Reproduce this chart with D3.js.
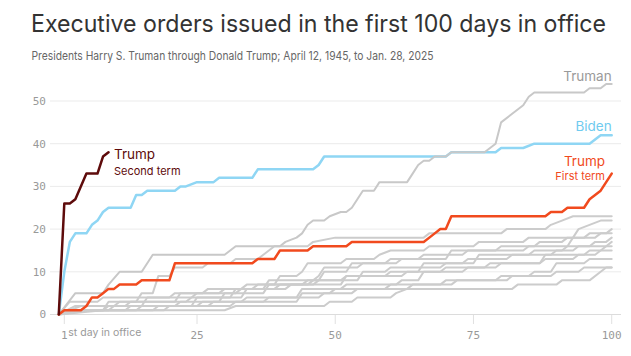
<!DOCTYPE html>
<html><head><meta charset="utf-8">
<script src="https://cdn.jsdelivr.net/npm/d3@7"></script>
<style>
html,body{margin:0;padding:0;background:#fff;}
svg{display:block;}
</style></head>
<body>
<svg id="chart" width="631" height="356"></svg>
<script>
// ---- DATA (day, cumulative executive orders) ----
const xTicks = [1, 25, 50, 75, 100];
const yTicks = [0, 10, 20, 30, 40, 50];

const truman = [[0,0],[3,5],[8,5],[9,7],[11,10],[15,10],[16,12],[17,14],[30,14],[31,15],[32,16],[40,16],[41,17],[43,18],[44,19],[45,21],[46,22],[48,22],[49,23],[51,24],[52,24],[53,25],[54,27],[55,29],[57,29],[58,31],[63,31],[64,33],[65,35],[66,36],[67,36],[68,37],[70,37],[71,38],[77,38],[78,39],[79,40],[80,45],[82,47],[84,49],[85,51],[86,52],[95,52],[96,53],[98,53],[99,54],[100,54]];
const grey23 = [[0,0],[3,1],[8,1],[9,3],[14,3],[15,5],[17,5],[18,9],[20,9],[21,11],[26,11],[27,12],[31,12],[32,13],[36,13],[37,14],[39,16],[45,16],[46,17],[50,18],[66,18],[67,19],[80,19],[81,20],[88,20],[89,21],[91,22],[93,23],[100,23]];
const grey22 = [[0,0],[4,2],[12,2],[13,3],[21,3],[22,5],[26,5],[27,6],[33,6],[34,7],[39,7],[40,9],[43,9],[44,10],[45,12],[51,12],[52,13],[57,13],[58,14],[60,15],[66,15],[67,16],[75,16],[76,17],[84,17],[85,18],[93,18],[94,20],[96,21],[98,22],[100,22]];
const grey20 = [[0,0],[2,1],[8,1],[9,2],[15,2],[16,4],[24,4],[25,5],[32,5],[33,6],[37,6],[38,8],[46,8],[47,9],[48,11],[54,11],[55,12],[61,12],[62,13],[70,13],[71,15],[79,15],[80,16],[86,16],[87,17],[91,17],[92,18],[95,18],[96,19],[99,19],[100,20]];
const grey19 = [[0,0],[2,3],[7,3],[8,4],[20,4],[21,5],[29,5],[30,6],[35,6],[36,7],[44,7],[45,8],[47,8],[48,10],[52,10],[53,12],[59,12],[60,13],[65,13],[66,14],[73,14],[74,15],[84,15],[85,16],[92,16],[93,18],[97,18],[98,19],[100,19]];
const grey18 = [[0,0],[1,1],[12,1],[13,2],[21,2],[22,3],[29,3],[30,5],[37,5],[38,7],[45,7],[46,8],[51,8],[52,9],[59,9],[60,10],[65,10],[66,12],[73,12],[74,13],[81,13],[82,14],[89,14],[90,15],[93,15],[94,16],[96,16],[97,17],[99,17],[100,18]];
const grey17 = [[0,0],[5,1],[14,1],[15,2],[24,2],[25,4],[31,4],[32,6],[39,6],[40,7],[46,7],[47,8],[54,8],[55,10],[59,10],[60,11],[69,11],[70,12],[75,12],[76,14],[85,14],[86,15],[91,15],[92,16],[99,16],[100,17]];
const grey16 = [[0,0],[3,2],[10,2],[11,3],[23,3],[24,4],[33,4],[34,6],[41,6],[42,7],[51,7],[52,9],[62,9],[63,10],[69,10],[70,11],[77,11],[78,12],[87,12],[88,14],[95,14],[96,15],[98,15],[99,16],[100,16]];
const grey15 = [[0,0],[6,1],[17,1],[18,2],[25,2],[26,3],[33,3],[34,4],[43,4],[44,6],[51,6],[52,7],[61,7],[62,8],[65,8],[66,10],[73,10],[74,11],[79,11],[80,12],[87,12],[88,13],[93,13],[94,14],[97,14],[98,15],[100,15]];
const grey13 = [[0,0],[2,1],[9,1],[10,2],[27,2],[28,3],[37,3],[38,4],[47,4],[48,5],[53,5],[54,6],[63,6],[64,7],[71,7],[72,8],[79,8],[80,9],[85,9],[86,10],[89,10],[90,12],[95,12],[96,13],[100,13]];
const grey11a = [[0,0],[4,1],[30,1],[32,2],[48,2],[49,3],[53,3],[54,4],[60,4],[61,5],[63,6],[82,6],[83,7],[90,7],[91,8],[96,8],[98,10],[99,11],[100,11]];
const grey11b = [[0,0],[8,1],[19,1],[20,2],[31,2],[32,3],[43,3],[44,5],[49,5],[50,6],[59,6],[60,7],[69,7],[70,8],[81,8],[82,9],[89,9],[90,10],[94,10],[95,11],[100,11]];
const biden = [[0,0],[1,10],[2,17],[3,19],[5,19],[6,21],[7,22],[8,24],[9,25],[13,25],[14,28],[15,28],[16,29],[21,29],[22,30],[23,30],[25,31],[28,31],[29,32],[35,32],[36,34],[46,34],[47,35],[48,37],[70,37],[71,38],[79,38],[80,39],[84,39],[86,40],[96,40],[98,42],[100,42]];
const trumpFirst = [[0,0],[1,1],[4,1],[5,2],[6,4],[7,4],[8,5],[9,6],[10,6],[11,7],[14,7],[15,8],[20,8],[21,12],[35,12],[36,13],[39,13],[40,15],[45,15],[46,16],[52,16],[53,17],[66,17],[68,19],[69,20],[70,20],[71,23],[88,23],[89,24],[91,24],[92,25],[95,25],[96,27],[97,28],[98,29],[99,31],[100,33]];
const trumpSecond = [[0,0],[1,26],[2,26],[3,27],[5,33],[7,33],[8,37],[9,38]];

const greySeries = [grey11a, grey11b, grey13, grey15, grey16, grey17, grey18, grey19, grey20, grey22, grey23];

// ---- CHART ----
const svg = d3.select("#chart");
const x = d3.scaleLinear().domain([1, 100]).range([64.3, 611.7]);
const y = d3.scaleLinear().domain([0, 50]).range([314.5, 101]);

function fitText(sel, target) {
  const w = sel.node().getComputedTextLength();
  if (Math.abs(w - target) > 2) sel.attr("textLength", target).attr("lengthAdjust", "spacingAndGlyphs");
}

const title = svg.append("text").attr("x", 31).attr("y", 32)
  .attr("font-family", "Inter, 'Noto Sans', sans-serif").attr("font-size", 24)
  .attr("fill", "#333").text("Executive orders issued in the first 100 days in office");
fitText(title, 575);
const sub = svg.append("text").attr("x", 31.5).attr("y", 60)
  .attr("font-family", "Inter, 'Noto Sans', sans-serif").attr("font-size", 12)
  .attr("fill", "#666").text("Presidents Harry S. Truman through Donald Trump; April 12, 1945, to Jan. 28, 2025");
fitText(sub, 402);

// gridlines
svg.append("g").selectAll("line").data(yTicks).join("line")
  .attr("x1", 50).attr("x2", 621)
  .attr("y1", d => y(d)).attr("y2", d => y(d))
  .attr("stroke", d => d === 0 ? "#dcdcdc" : "#ebebeb").attr("stroke-width", 1);

svg.append("g").selectAll("text").data(yTicks).join("text")
  .attr("x", 46).attr("y", d => y(d)).attr("dy", "0.35em")
  .attr("text-anchor", "end")
  .attr("font-family", "'DejaVu Sans Mono', monospace").attr("font-size", 11)
  .attr("fill", "#999").text(d => d);

// x ticks
svg.append("g").selectAll("line").data(xTicks).join("line")
  .attr("x1", d => x(d)).attr("x2", d => x(d))
  .attr("y1", 315).attr("y2", 324)
  .attr("stroke", "#e0e0e0").attr("stroke-width", 1);

svg.append("g").selectAll("text").data(xTicks).join("text")
  .attr("x", d => x(d)).attr("y", 339)
  .attr("text-anchor", "middle")
  .attr("font-family", "'DejaVu Sans Mono', monospace").attr("font-size", 11)
  .attr("fill", "#999").text(d => d);

svg.append("text").attr("x", x(1) + 4).attr("y", 336)
  .attr("font-family", "Inter, 'Noto Sans', sans-serif").attr("font-size", 10.5)
  .attr("fill", "#999").text("st day in office");

const line = d3.line().x(d => x(d[0])).y(d => y(d[1])).curve(d3.curveLinear);

function draw(data, color, width) {
  svg.append("path").datum(data).attr("d", line)
    .attr("fill", "none").attr("stroke", color).attr("stroke-width", width)
    .attr("stroke-linejoin", "round").attr("stroke-linecap", "round");
}

draw(biden, "#8fd6f4", 2.5);
greySeries.forEach(s => draw(s, "#cccccc", 2));
draw(truman, "#c8c8c8", 2);
draw(trumpFirst, "#f14a1e", 2.5);
draw(trumpSecond, "#5e0b0b", 2.5);

// labels
const lab = (tx, xx, yy, size, color, anchor) => svg.append("text")
  .attr("x", xx).attr("y", yy).attr("font-family", "Inter, 'Noto Sans', sans-serif")
  .attr("font-size", size).attr("fill", color).attr("text-anchor", anchor).text(tx);

lab("Truman", x(100), 81, 13.5, "#9a9a9a", "end");
lab("Biden", x(100), 131, 13.5, "#6fcbef", "end");
lab("Trump", 605, 166, 13.5, "#f14a1e", "end");
lab("First term", 605, 180, 11, "#f14a1e", "end");
lab("Trump", 114, 159, 13.5, "#5e0b0b", "start");
lab("Second term", 114, 175, 11, "#5e0b0b", "start");
</script>
</body></html>
